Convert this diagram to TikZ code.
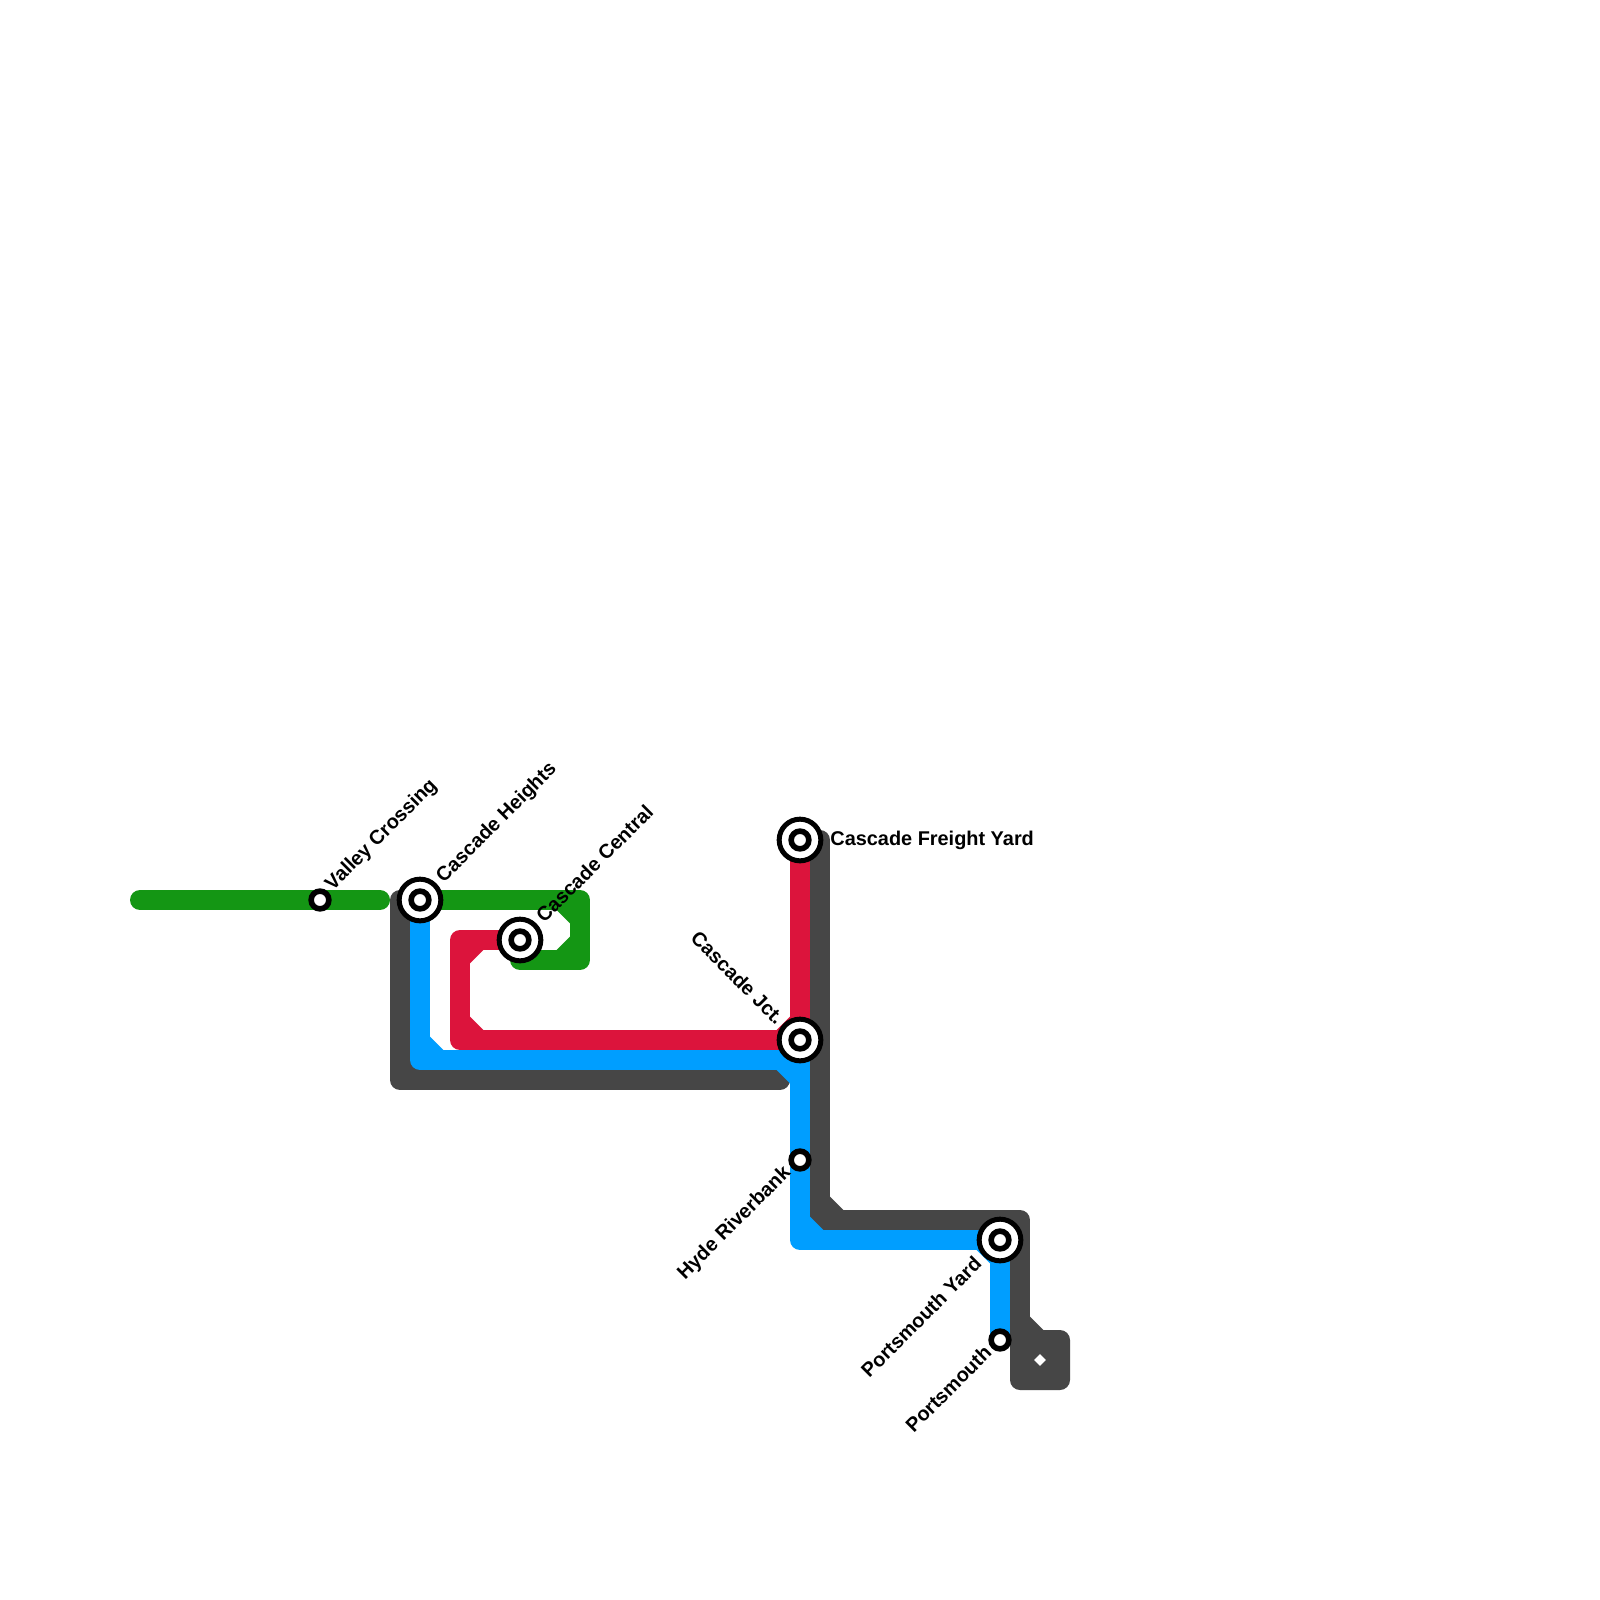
\documentclass[tikz,border=0pt]{standalone}
\usepackage{fontspec}
\setmainfont{Liberation Sans}
\usetikzlibrary{shapes.geometric}
\definecolor{LineGreen}{HTML}{149614}
\definecolor{LineRed}{HTML}{DC143C}
\definecolor{LineBlue}{HTML}{009EFF}
\definecolor{LineGray}{HTML}{464646}
\newcommand{\chamf}[5]{\fill[#1] (#2,#3) -- ++(#4*13.3,0) -- ++(-#4*13.3,#5*13.3) -- cycle;}
\begin{document}
\begin{tikzpicture}[x=0.5pt,y=-0.5pt]
  \tikzstyle{metro}=[line width=10pt,line cap=round,line join=round]
  \tikzstyle{hubring}=[circle,draw=black,fill=white,line width=2.5pt,
    minimum size=20.83pt,inner sep=0pt]
  \tikzstyle{stopring}=[circle,draw=black,fill=white,line width=2.8pt,
    minimum size=8.87pt,inner sep=0pt]
  \tikzstyle{stnlabel}=[inner sep=0pt,font=\fontsize{9.95}{11}\selectfont\bfseries]
  \useasboundingbox[fill=white] (0,0) rectangle (1600,1600);
  \coordinate (vc) at (320,900);
  \coordinate (ch) at (420,900);
  \coordinate (cc) at (520,940);
  \coordinate (fy) at (800,840);
  \coordinate (cj) at (800,1040);
  \coordinate (hr) at (800,1160);
  \coordinate (py) at (1000,1240);
  \coordinate (pm) at (1000,1340);
  \coordinate (vw) at (140,900);
  \coordinate (ve) at (380,900);
  \coordinate (ge) at (780,1080);
  % depot block
  \node[rectangle,fill=LineGray,rounded corners=5pt,minimum size=30pt,inner sep=0pt]
    (depot) at (1040,1360) {};
  \node[diamond,fill=white,minimum size=6pt,inner sep=0pt] (depotmark) at (depot) {};
  % gray
  \draw[metro,color=LineGray] (ch) -- (400,900) -- (400,1080) -- (ge);
  \draw[metro,color=LineGray] (fy.center) ++(20,0) -- (820,1220) -- (1020,1220) -- (1020,1340);
  \chamf{LineGray}{410}{1070}{1}{-1}
  \chamf{LineGray}{830}{1210}{1}{-1}
  \chamf{LineGray}{1010}{1230}{-1}{1}
  \chamf{LineGray}{1030}{1330}{1}{-1}
  % blue
  \draw[metro,color=LineBlue] (ch) -- (420,1060) -- (800,1060) -- (hr) -- (800,1240) -- (py) -- (pm);
  \chamf{LineBlue}{430}{1050}{1}{-1}
  \chamf{LineBlue}{790}{1070}{-1}{1}
  \chamf{LineBlue}{810}{1230}{1}{-1}
  \chamf{LineBlue}{990}{1250}{-1}{1}
  % red
  \draw[metro,color=LineRed] (cc) -- (460,940) -- (460,1040) -- (cj) -- (fy);
  \chamf{LineRed}{470}{950}{1}{1}
  \chamf{LineRed}{470}{1030}{1}{-1}
  \chamf{LineRed}{790}{1030}{-1}{-1}
  % green
  \draw[metro,color=LineGreen] (vw) -- (ve);
  \draw[metro,color=LineGreen] (ch) -- (580,900) -- (580,960) -- (520,960);
  \chamf{LineGreen}{570}{910}{-1}{1}
  \chamf{LineGreen}{570}{950}{-1}{-1}
  % stations
  \foreach \nm in {ch,cc,fy,cj,py} {
    \node[hubring] (\nm hub) at (\nm) {};
    \node[stopring] (\nm dot) at (\nm) {};
  }
  \foreach \nm in {vc,hr,pm} {
    \node[stopring] (\nm dot) at (\nm) {};
  }
  % labels
  \node[stnlabel,rotate=45,anchor=west] (vclabel) at ([shift={(9,-12)}]vc) {Valley Crossing};
  \node[stnlabel,rotate=45,anchor=west] (chlabel) at ([shift={(20,-20)}]ch) {Cascade Heights};
  \node[stnlabel,rotate=45,anchor=west] (cclabel) at ([shift={(19,-21)}]cc) {Cascade Central};
  \node[stnlabel,anchor=west] (fylabel) at ([shift={(30,0)}]fy) {Cascade Freight Yard};
  \node[stnlabel,rotate=-45,anchor=east] (cjlabel) at ([shift={(-19,-19)}]cj) {Cascade Jct.};
  \node[stnlabel,rotate=45,anchor=east] (hrlabel) at ([shift={(-12,10)}]hr) {Hyde Riverbank};
  \node[stnlabel,rotate=45,anchor=east] (pylabel) at ([shift={(-22,20)}]py) {Portsmouth Yard};
  \node[stnlabel,rotate=45,anchor=east] (pmlabel) at ([shift={(-12,9)}]pm) {Portsmouth};
\end{tikzpicture}
\end{document}
